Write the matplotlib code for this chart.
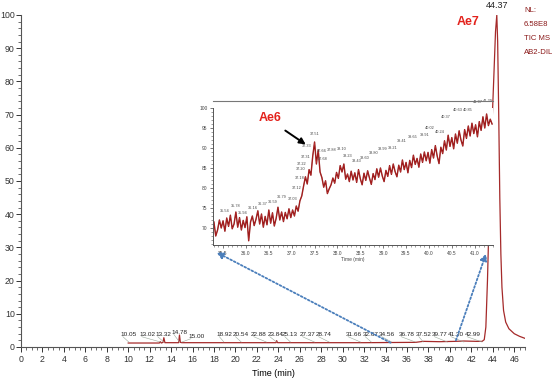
import numpy as np
import matplotlib
matplotlib.use("Agg")
import matplotlib.pyplot as plt
from matplotlib.lines import Line2D
from matplotlib.patches import FancyArrowPatch

plt.rcParams['font.family'] = ['Liberation Sans', 'DejaVu Sans']

# main TIC trace (time in min, relative abundance)
main_t = [10.0, 11.5, 12.9, 13.0, 13.08, 13.25, 13.32, 13.42, 14.0, 14.7, 14.78, 14.86,
          15.0, 18.9, 20.5, 23.78, 23.84, 23.92, 28.0, 32.0, 36.8, 37.5, 39.0, 40.5,
          41.3, 42.5, 43.0, 43.2, 43.35, 43.5, 43.7, 43.9, 44.1, 44.25, 44.37, 44.45,
          44.55, 44.65, 44.75, 44.85, 45.0, 45.2, 45.5, 46.0, 46.5, 47.0]
main_v = [1.2, 1.2, 1.2, 1.6, 1.2, 1.4, 2.8, 1.3, 1.3, 1.3, 3.6, 1.4,
          1.3, 1.3, 1.3, 1.3, 1.9, 1.3, 1.3, 1.3, 1.4, 1.7, 1.6, 1.7,
          1.8, 1.7, 1.7, 2.2, 6.0, 20.0, 45.0, 65.0, 82.0, 95.0, 100.0, 92.0,
          70.0, 45.0, 28.0, 18.0, 11.0, 7.5, 5.5, 4.0, 3.2, 2.6]

# labelled peaks on the main trace
peak_names = ['10.05', '13.02', '13.32', '14.78', '15.00', '18.92', '20.54', '22.88',
              '23.84', '25.13', '27.37', '28.74', '31.66', '32.67', '34.56', '36.78',
              '37.52', '39.77', '41.30', '42.99']
peak_label_x = [10.0, 11.75, 13.25, 14.75, 16.35, 19.0, 20.5, 22.2, 23.7, 25.1, 26.75,
                28.25, 31.0, 32.6, 34.15, 35.95, 37.6, 39.05, 40.6, 42.1]

# inset (zoom 35.3 - 41.4 min), scans every 0.04 min
inset_v = [71.5, 68.0, 69.5, 72.0, 70.0, 71.8, 69.2, 72.5, 70.4, 73.2, 69.8, 71.0,
           74.0, 70.2, 72.6, 69.5, 71.9, 70.1, 72.8, 66.8, 71.5, 73.0, 70.6, 72.2,
           74.3, 71.0, 73.5, 70.2, 72.9, 70.8, 74.5, 71.2, 73.8, 70.5, 72.4, 75.2,
           72.0, 74.0, 71.6, 73.9, 72.3, 74.8, 72.6, 74.5, 73.0, 75.5, 74.2, 76.8,
           78.0, 80.5, 82.8, 81.0, 84.6, 83.2, 88.0, 91.5, 86.0, 89.5, 84.0, 82.6,
           80.2, 81.8, 78.6, 79.8, 80.8, 82.5, 81.2, 83.9, 82.4, 85.6, 84.0, 86.0,
           82.2, 83.5, 81.6, 84.2, 82.0, 83.8, 81.4, 84.6, 82.3, 80.8, 83.7, 81.9,
           84.3, 82.5, 80.9, 83.6, 82.1, 84.8, 82.7, 85.0, 83.0, 81.6, 84.4, 82.9,
           85.6, 83.4, 86.0, 84.1, 82.8, 85.7, 84.0, 87.0, 84.6, 86.4, 83.8, 86.9,
           85.1, 88.2, 85.9, 87.4, 85.2, 88.5, 86.4, 89.0, 86.8, 88.9, 86.2, 89.6,
           87.5, 90.6, 88.0, 86.1, 90.2, 88.6, 91.8, 89.5, 93.2, 90.4, 92.6, 89.8,
           93.5, 91.2, 94.3, 92.0, 90.5, 94.6, 92.4, 95.5, 93.0, 96.2, 93.6, 95.8,
           92.8, 96.6, 94.4, 97.8, 95.0, 98.5, 95.6, 97.2, 96.0]
inset_t = 35.30 + 0.04 * np.arange(len(inset_v))

inset_pk_t = [35.54, 35.78, 35.94, 36.16, 36.37, 36.59, 36.79, 37.03, 37.12, 37.18,
              37.20, 37.22, 37.31, 37.33, 37.51, 37.66, 37.68, 37.88, 38.10, 38.23,
              38.43, 38.60, 38.80, 38.99, 39.21, 39.41, 39.65, 39.91, 40.02, 40.24,
              40.37, 40.63, 40.85, 41.07, 41.29]
inset_pk_v = [73.8, 75.0, 73.2, 74.5, 75.5, 76.0, 77.2, 76.8, 79.5, 82.0,
              84.2, 85.5, 87.2, 90.0, 93.0, 88.8, 86.8, 89.0, 89.2, 87.5,
              86.2, 87.0, 88.2, 89.2, 89.5, 91.2, 92.2, 92.8, 94.5, 93.5,
              97.2, 99.0, 99.0, 101.0, 101.2]

info_lines = ['NL:', '6.58E8', 'TIC MS', 'AB2-DIL']

W, H = 552, 388
fig = plt.figure(figsize=(W / 100, H / 100), dpi=100)


def fx(px):
    return px / W


def fy(py):
    return 1 - py / H


trace_col = '#a52a2a'
ax = fig.add_axes([fx(21), fy(347), fx(525) - fx(21), fy(15) - fy(347)])
ax.plot(main_t, main_v, color=trace_col, lw=0.9)
ax.set_xlim(0, 47)
ax.set_ylim(0, 100)
ax.set_xticks(np.arange(0, 47, 2))
ax.set_xticks(np.arange(0, 47.1, 0.5), minor=True)
ax.set_yticks(np.arange(0, 101, 10))
ax.set_yticks(np.arange(0, 101, 2), minor=True)
for s in ['top', 'right']:
    ax.spines[s].set_visible(False)
for s in ['left', 'bottom']:
    ax.spines[s].set_color('#555555')
    ax.spines[s].set_linewidth(0.8)
ax.tick_params(which='major', length=3.5, width=0.7, labelsize=6.3, colors='#333333', pad=1)
ax.tick_params(which='minor', length=2.5, width=0.6, colors='#555555')
ax.tick_params(axis='x', which='major', pad=2.5)
ax.set_xlabel('Time (min)', fontsize=6.5, labelpad=3)

# main peak labels with leader lines
peak_t = [float(p) for p in peak_names]
for name, lx, pt in zip(peak_names, peak_label_x, peak_t):
    ly = 3.0
    if name == '14.78':
        ly = 3.7
    if name == '15.00':
        ly = 2.4
    ax.text(lx, ly, name, fontsize=4.6, ha='center', va='bottom', color='#222222')
    ax.plot([lx - 0.5, pt], [ly + 0.1, 1.5], color='#9aa89a', lw=0.4)
ax.text(44.37, 101.5, '44.37', fontsize=6.5, ha='center', va='bottom', color='#222222',
        clip_on=False)

# inset
ins = fig.add_axes([fx(213), fy(245), fx(493) - fx(213), fy(108) - fy(245)])
ins.set_facecolor('white')
ins.plot(inset_t, inset_v, color='#8b0d0d', lw=1.0)
ins.plot(inset_t, inset_v, color='#d04040', lw=0.3, alpha=0.8)
ins.set_xlim(35.28, 41.4)
ins.set_ylim(65.75, 100)
ins.set_xticks(np.arange(35.5, 41.01, 0.5))
ins.set_xticklabels(['%.1f' % v for v in np.arange(35.5, 41.01, 0.5)])
ins.set_xticks(np.arange(35.3, 41.4, 0.1), minor=True)
ins.set_yticks(np.arange(70, 101, 5))
ins.set_yticks(np.arange(66, 101, 1), minor=True)
for s in ['top', 'right']:
    ins.spines[s].set_visible(False)
for s in ['left', 'bottom']:
    ins.spines[s].set_color('#555555')
    ins.spines[s].set_linewidth(0.7)
ins.tick_params(which='major', length=2.5, width=0.5, labelsize=3.5, colors='#444444', pad=1.5)
ins.tick_params(which='minor', length=1.5, width=0.4, colors='#555555')
ins.set_xlabel('Time (min)', fontsize=3.5, labelpad=1, color='#444444')
for t, v in zip(inset_pk_t, inset_pk_v):
    ins.text(t, v, '%.2f' % t, fontsize=2.8, ha='center', va='bottom', color='#444444',
             clip_on=False)

# grey window edge above the inset
fig.add_artist(Line2D([fx(213), fx(493)], [fy(101), fy(101)], color='#777777', lw=0.8))

# compound annotations
fig.text(fx(270), fy(118), 'Ae6', color='#e3221c', fontsize=9, fontweight='bold',
         ha='center', va='center')
fig.text(fx(468), fy(22), 'Ae7', color='#e3221c', fontsize=9, fontweight='bold',
         ha='center', va='center')
fig.add_artist(FancyArrowPatch((fx(283), fy(129)), (fx(308), fy(146)),
                               transform=fig.transFigure, arrowstyle='-|>',
                               mutation_scale=9, color='black', lw=1.4))

# blue dotted zoom arrows
blue = '#4a7ebb'
for (x0, y0), (x1, y1) in [((393, 344), (214, 251)), ((455, 343), (487, 251))]:
    fig.add_artist(FancyArrowPatch((fx(x0), fy(y0)), (fx(x1), fy(y1)),
                                   transform=fig.transFigure, arrowstyle='-|>',
                                   mutation_scale=10, color=blue, lw=1.3,
                                   linestyle=(0, (1, 1.2))))

# instrument info
for i, s in enumerate(info_lines):
    fig.text(fx(524), fy(10 + 14 * i), s, color='#8b1a1a', fontsize=5.6, ha='left',
             va='center')

fig.savefig('out.png', dpi=100)
